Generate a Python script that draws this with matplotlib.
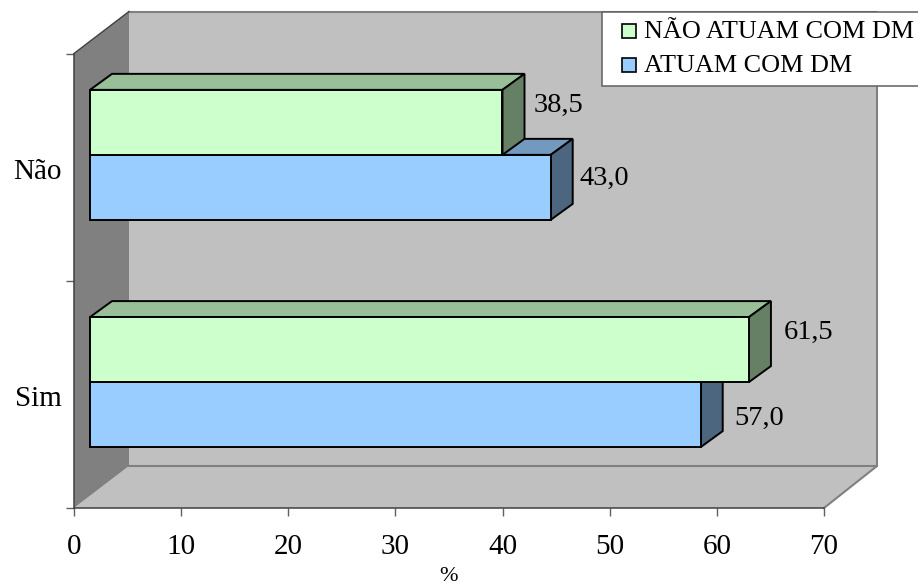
import matplotlib
matplotlib.use('Agg')
import matplotlib.pyplot as plt
from matplotlib.patches import Polygon, Rectangle

categories = ['Sim', 'Não']
atuam = [57.0, 43.0]
nao_atuam = [61.5, 38.5]
x_ticks = [0, 10, 20, 30, 40, 50, 60, 70]
legend_labels = ['NÃO ATUAM COM DM', 'ATUAM COM DM']

plt.rcParams['font.family'] = ['Liberation Serif', 'DejaVu Serif']

W, H = 918, 586
fig = plt.figure(figsize=(W / 100, H / 100), dpi=100)
# axes = front plane of the 3d box, everything else hangs off it
ax = fig.add_axes([74 / W, 1 - 508 / H, 750 / W, 454.5 / H])
ax.set_xlim(0, 70)
ax.set_ylim(0, 2)

px = 70 / 750
py = 2 / 454.5
wall_left = 55 * px
wall_right = 53 * px
wall_dy = 42 * py
bar_dx = 22 * px
bar_dy = 16 * py
bar_x0 = 16 * px
bar_h = 65 * py
bar_mid = 0.554


def poly(pts, fc, z, ec='none', lw=0):
    ax.add_patch(Polygon(pts, closed=True, facecolor=fc, edgecolor=ec, linewidth=lw,
                         clip_on=False, zorder=z, joinstyle='miter'))


# walls
poly([(wall_left, wall_dy), (70 + wall_right, wall_dy), (70 + wall_right, 2 + wall_dy), (wall_left, 2 + wall_dy)],
     '#C0C0C0', 1)
poly([(0, 0), (70, 0), (70 + wall_right, wall_dy), (wall_left, wall_dy)], '#C0C0C0', 1)
poly([(0, 0), (wall_left, wall_dy), (wall_left, 2 + wall_dy), (0, 2)], '#808080', 1)
ax.plot([wall_left, 70 + wall_right, 70 + wall_right], [2 + wall_dy, 2 + wall_dy, wall_dy],
        color='#808080', lw=1.5, clip_on=False, zorder=1.5)
ax.plot([wall_left, 70 + wall_right, 70], [wall_dy, wall_dy, 0], color='#808080', lw=1.5,
        clip_on=False, zorder=1.5)
ax.plot([0, wall_left], [2, 2 + wall_dy], color='#404040', lw=1, clip_on=False, zorder=1.5)


def bar3d(value, y0, front, top, side, z):
    x0 = bar_x0
    x1 = bar_x0 + value
    y1 = y0 + bar_h
    poly([(x0, y1), (x1, y1), (x1 + bar_dx, y1 + bar_dy), (x0 + bar_dx, y1 + bar_dy)], top, z, 'black', 1.4)
    poly([(x1, y0), (x1 + bar_dx, y0 + bar_dy), (x1 + bar_dx, y1 + bar_dy), (x1, y1)], side, z, 'black', 1.4)
    poly([(x0, y0), (x1, y0), (x1, y1), (x0, y1)], front, z, 'black', 1.4)


for i in range(len(categories)):
    # blue first, the green box sits on top of it
    bar3d(atuam[i], i + bar_mid - bar_h, '#99CCFF', '#7399BF', '#4D6680', 2 + i)
    bar3d(nao_atuam[i], i + bar_mid, '#CCFFCC', '#99BF99', '#668066', 2.5 + i)

# value labels, nudged by hand in pixels
blue_off = [(34, -4), (29, 9)]
green_off = [(35, 17), (31, 17)]
for i in range(len(categories)):
    for vals, base, off in [(atuam, i + bar_mid - bar_h / 2, blue_off),
                            (nao_atuam, i + bar_mid + bar_h / 2, green_off)]:
        ax.annotate(f'{vals[i]:.1f}'.replace('.', ','), xy=(bar_x0 + vals[i], base),
                    xytext=off[i], textcoords='offset pixels', fontsize=20.5,
                    ha='left', va='center', color='black', zorder=6, annotation_clip=False)

# axes
for s in ['top', 'right']:
    ax.spines[s].set_visible(False)
for s in ['left', 'bottom']:
    ax.spines[s].set_color('#404040')
    ax.spines[s].set_linewidth(1.1)
    ax.spines[s].set_zorder(1.8)
ax.patch.set_visible(False)
ax.set_xticks(x_ticks)
ax.set_xticklabels([str(t) for t in x_ticks], fontsize=21)
ax.set_yticks([0, 1, 2])
ax.set_yticklabels([])
ax.set_yticks([0.495, 1.49], minor=True)
ax.set_yticklabels(categories, minor=True, fontsize=21)
ax.tick_params(axis='both', which='major', length=6, width=1, color='#606060', pad=13)
ax.tick_params(axis='y', which='minor', length=0, pad=9)
ax.set_xlabel('%', fontsize=16, labelpad=5)

# legend box runs off the right edge of the picture
fig.add_artist(Rectangle((602 / W, 1 - 86 / H), 330 / W, 74 / H, transform=fig.transFigure,
                         facecolor='white', edgecolor='#606060', linewidth=1.1, zorder=10))
legend_colors = ['#CCFFCC', '#99CCFF']
for n in range(2):
    yc = 31 + 34 * n
    fig.add_artist(Rectangle((622 / W, 1 - (yc + 7) / H), 14 / W, 14 / H, transform=fig.transFigure,
                             facecolor=legend_colors[n], edgecolor='black', linewidth=1.2, zorder=11))
    fig.text(644 / W, 1 - (yc - 1) / H, legend_labels[n], fontsize=18.8, ha='left', va='center_baseline', zorder=11)

fig.savefig('out.png', dpi=100)
